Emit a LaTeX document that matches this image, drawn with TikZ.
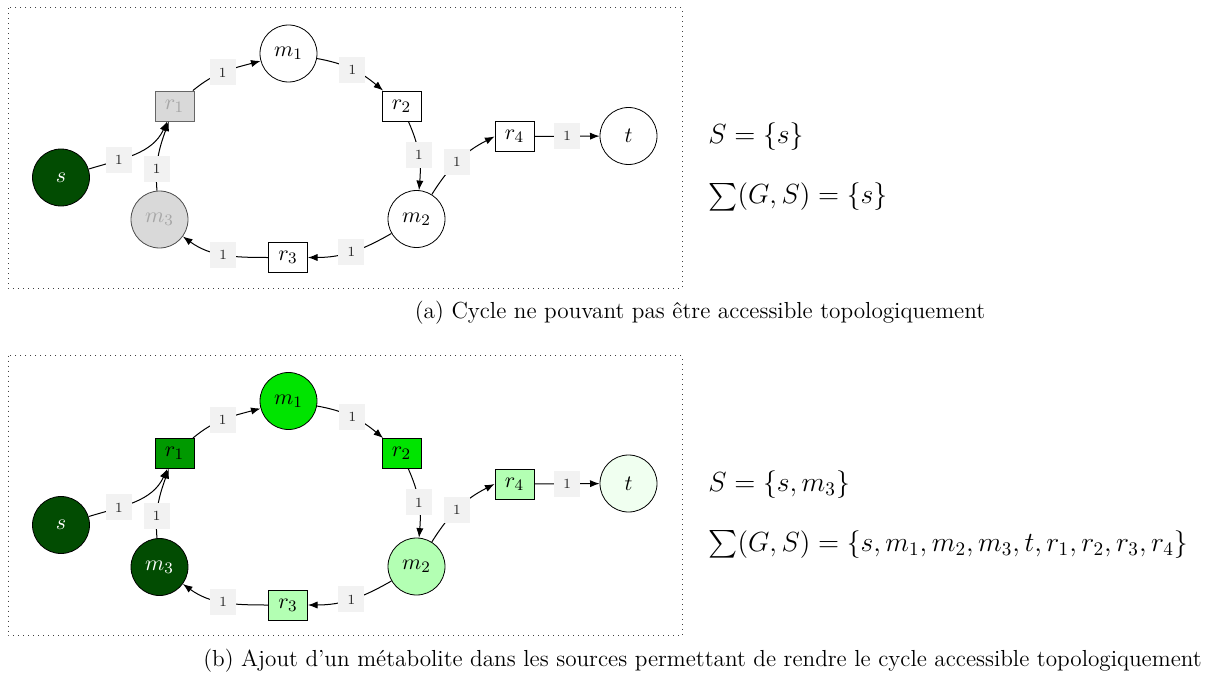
\documentclass[tikz,border=0pt]{standalone}
\usepackage{amsmath}
\usepackage{fontspec}
\usetikzlibrary{arrows.meta}
\definecolor{dkgreen}{RGB}{2,76,2}
\definecolor{mdgreen}{RGB}{0,153,0}
\definecolor{brgreen}{RGB}{0,228,0}
\definecolor{ltgreen}{RGB}{179,255,179}
\definecolor{vlgreen}{RGB}{240,255,240}
\definecolor{lblgray}{RGB}{242,242,242}
\definecolor{inact}{RGB}{217,217,217}
\newcommand{\mypanel}[1]{%
  \draw[framebox] (8,-8) rectangle (682,-288);
  \node[met,#1-s]  (#1s)  at (61,-177.5) {$s$};
  \node[rea,#1-r1] (#1r1) at (174.5,-106) {$r_1$};
  \node[met,#1-m1] (#1m1) at (288.5,-53.5) {$m_1$};
  \node[rea,#1-r2] (#1r2) at (401.5,-106) {$r_2$};
  \node[met,#1-m2] (#1m2) at (416.5,-219) {$m_2$};
  \node[rea,#1-r3] (#1r3) at (288,-257.5) {$r_3$};
  \node[met,#1-m3] (#1m3) at (159.5,-219.5) {$m_3$};
  \node[rea,#1-r4] (#1r4) at (514.5,-136.5) {$r_4$};
  \node[met,#1-t]  (#1t)  at (628.5,-136) {$t$};
  \draw[arr] (#1s) to[out=17,in=-115] node[lbl,pos=0.31] {1} (#1r1);
  \draw[arr] (#1m3) to[out=95,in=-110] node[lbl,pos=0.3] {1} (#1r1);
  \draw[arr] (#1r1) to[out=40,in=195] node[lbl,pos=0.47] {1} (#1m1);
  \draw[arr] (#1m1) to[out=-10,in=140] node[lbl,pos=0.5] {1} (#1r2);
  \draw[arr] (#1r2) to[out=-66,in=85] node[lbl,pos=0.5] {1} (#1m2);
  \draw[arr] (#1m2) to[out=58,in=207] node[lbl,pos=0.47] {1} (#1r4.west);
  \draw[arr] (#1r4) -- node[lbl] {1} (#1t);
  \draw[arr] (#1m2) to[out=210,in=0] node[lbl,pos=0.5] {1} (#1r3);
  \draw[arr] (#1r3) to[out=180,in=-36] node[lbl,pos=0.5] {1} (#1m3);
}
\begin{document}
\begin{tikzpicture}[x=0.5pt,y=0.5pt,
  met/.style={circle,draw,minimum size=28.5pt,inner sep=0pt,fill=white,font=\fontsize{10.95}{13}\selectfont},
  rea/.style={rectangle,draw,minimum width=19.5pt,minimum height=15pt,inner sep=0pt,fill=white,font=\fontsize{10.95}{13}\selectfont},
  lbl/.style={fill=lblgray,minimum size=13pt,inner sep=0pt,font=\scriptsize,text=black!85},
  arr/.style={-{Latex[length=4.8pt,width=3.6pt]},line width=0.5pt},
  framebox/.style={draw=black!75,dotted,line width=0.5pt},
  eq/.style={anchor=west,font=\Large,inner sep=0pt,scale=0.96,transform shape},
  captext/.style={font=\fontsize{11.6}{14}\selectfont,inner sep=0pt},
  a-s/.style={fill=dkgreen,text=white},
  a-r1/.style={fill=inact,draw=black!60,text=black!35},
  a-m1/.style={},
  a-r2/.style={},
  a-m2/.style={},
  a-r3/.style={},
  a-m3/.style={fill=inact,draw=black!70,text=black!35},
  a-r4/.style={},
  a-t/.style={},
  b-s/.style={fill=dkgreen,text=white},
  b-r1/.style={fill=mdgreen},
  b-m1/.style={fill=brgreen},
  b-r2/.style={fill=brgreen},
  b-m2/.style={fill=ltgreen},
  b-r3/.style={fill=ltgreen},
  b-m3/.style={fill=dkgreen,text=white},
  b-r4/.style={fill=ltgreen},
  b-t/.style={fill=vlgreen}]
\useasboundingbox (0,0) rectangle (1215,-674);
\begin{scope}
  \mypanel{a}
  \node[eq] (aeq1) at (708,-137) {$S=\{s\}$};
  \node[eq] (aeq2) at (708,-197) {$\sum(G,S)=\{s\}$};
  \node[captext] (acap) at (700,-313) {(a) Cycle ne pouvant pas être accessible topologiquement};
\end{scope}
\begin{scope}[shift={(0,-347.5)}]
  \mypanel{b}
  \node[eq] (beq1) at (708,-137) {$S=\{s,m_3\}$};
  \node[eq] (beq2) at (708,-197) {$\sum(G,S)=\{s,m_1,m_2,m_3,t,r_1,r_2,r_3,r_4\}$};
  \node[captext] (bcap) at (702.5,-313.5) {(b) Ajout d'un métabolite dans les sources permettant de rendre le cycle accessible topologiquement};
\end{scope}
\end{tikzpicture}
\end{document}
